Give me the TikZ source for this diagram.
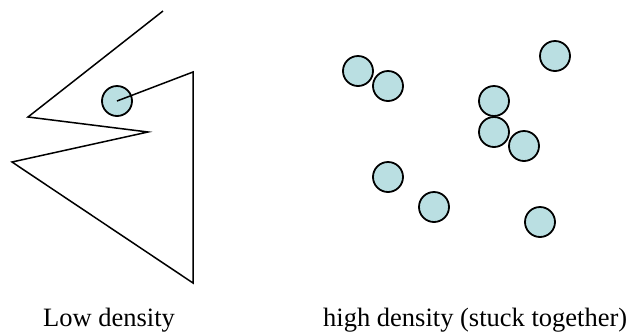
\documentclass[tikz,border=0pt]{standalone}
\usepackage{fontspec}
\setmainfont{Liberation Serif}
\definecolor{ballfill}{HTML}{BADFE2}
\begin{document}
\begin{tikzpicture}[x=1pt,y=-1pt,
  ball/.style={circle,draw=black,line width=1.8pt,fill=ballfill,minimum size=30pt,inner sep=0pt},
  lbl/.style={font=\fontsize{26.5}{30}\selectfont,inner sep=0pt,anchor=base west}]
\useasboundingbox (0,0) rectangle (630,333);
% low density
\node[ball] (c0) at (117,101) {};
\coordinate (p1) at (163,11);
\coordinate (p2) at (28,117);
\coordinate (p3) at (148,132);
\coordinate (p4) at (12,162);
\coordinate (p5) at (193,283);
\coordinate (p6) at (193,72);
\draw[line width=1.5pt,line join=miter] (p1) -- (p2) -- (p3) -- (p4) -- (p5) -- (p6) -- (c0.center);
% high density
\node[ball] (b1) at (358,71) {};
\node[ball] (b2) at (388,86) {};
\node[ball] (b3) at (555,56) {};
\node[ball] (b4) at (494,101) {};
\node[ball] (b5) at (494,132) {};
\node[ball] (b6) at (524,146) {};
\node[ball] (b7) at (388,177) {};
\node[ball] (b8) at (434,207) {};
\node[ball] (b9) at (540,222) {};
% labels
\node[lbl] (t1) at (43,326) {Low density};
\node[lbl] (t2) at (323,326) {high density (stuck together)};
\end{tikzpicture}
\end{document}
